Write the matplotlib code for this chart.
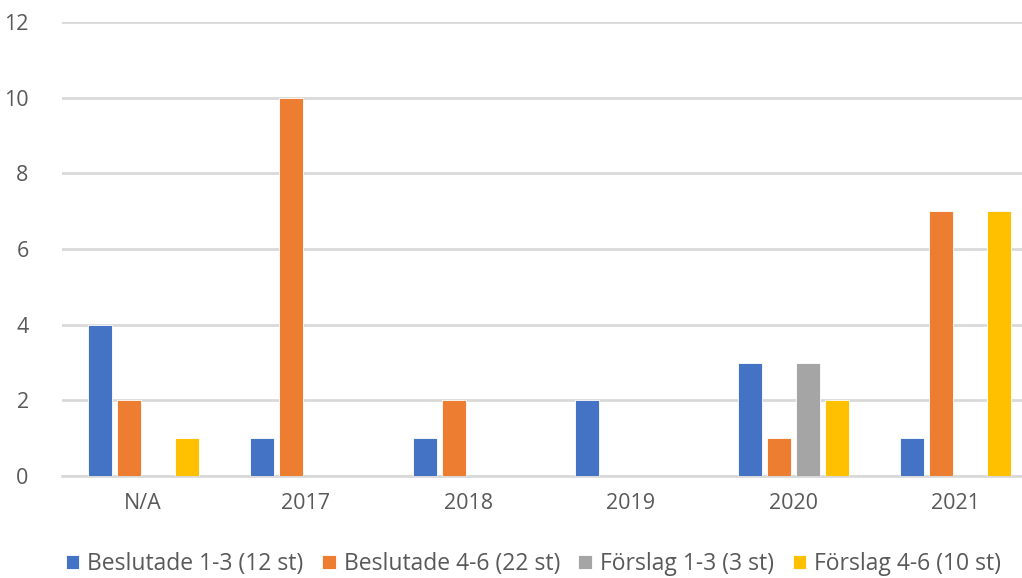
import numpy as np
import matplotlib.pyplot as plt

categories = ['N/A', '2017', '2018', '2019', '2020', '2021']
series_names = ['Beslutade 1-3 (12 st)', 'Beslutade 4-6 (22 st)',
                'Förslag 1-3 (3 st)', 'Förslag 4-6 (10 st)']
beslutade_13 = [4, 1, 1, 2, 3, 1]
beslutade_46 = [2, 10, 2, 0, 1, 7]
forslag_13 = [0, 0, 0, 0, 3, 0]
forslag_46 = [1, 0, 0, 0, 2, 7]
colors = ['#4472C4', '#ED7D31', '#A5A5A5', '#FFC000']

plt.rcParams['font.family'] = ['Open Sans', 'DejaVu Sans']

fig = plt.figure(figsize=(10.22, 5.78), dpi=100)
W, H = 1022, 578
ax = fig.add_axes([62 / W, 102 / H, (W - 62) / W, (476 - 22) / H])

x = np.arange(len(categories))
step = 29 / 162.5
width = 24 / 162.5
values = [beslutade_13, beslutade_46, forslag_13, forslag_46]
for i, (vals, name, c) in enumerate(zip(values, series_names, colors)):
    ax.bar(x + (i - 1.5) * step, vals, width, color=c, label=name,
           edgecolor='white', linewidth=0.6, zorder=3)

ax.set_xlim(-0.5, -0.5 + (W - 62) / 162.5)
ax.set_ylim(0, 12)
ax.set_yticks(range(0, 13, 2))
ax.set_xticks(x)
ax.set_xticklabels(categories)
ax.yaxis.grid(True, color='#D9D9D9', linewidth=2, zorder=0)
for s in ['top', 'right', 'left']:
    ax.spines[s].set_visible(False)
ax.spines['bottom'].set_color('#D9D9D9')
ax.spines['bottom'].set_linewidth(2)
ax.tick_params(axis='both', length=0, labelsize=15.5, colors='#595959')
ax.tick_params(axis='x', pad=12)
ax.tick_params(axis='y', pad=24)

leg = fig.legend(loc='center', bbox_to_anchor=(0.522, 1 - 564 / H), ncol=4,
                 frameon=False, fontsize=16.5, handlelength=0.6, handleheight=0.6,
                 handletextpad=0.35, columnspacing=0.8, borderaxespad=0)
for t in leg.get_texts():
    t.set_color('#595959')

fig.savefig('out.png', dpi=100)
